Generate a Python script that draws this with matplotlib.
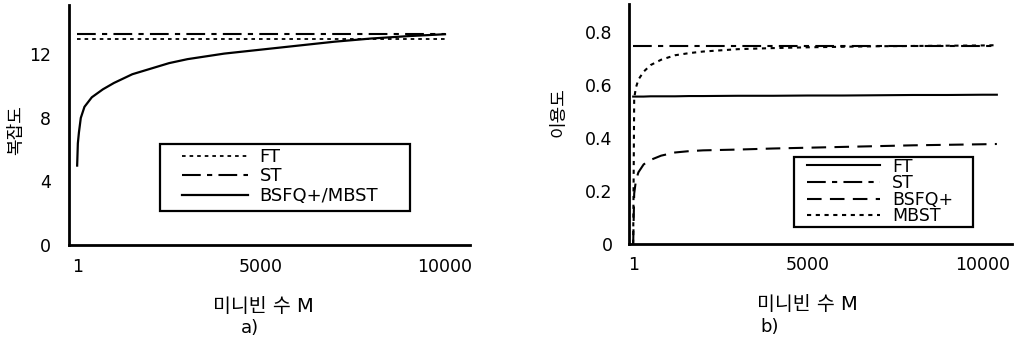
import numpy as np
import matplotlib.pyplot as plt
from matplotlib.patches import Rectangle

plt.rcParams['font.family'] = ['DejaVu Sans', 'Noto Sans CJK KR']

# a) complexity
m_a = [1, 20, 50, 100, 200, 400, 700, 1000, 1500, 2000, 2500, 3000, 4000, 5000, 6000, 7000, 8000, 9000, 10000]
ft_a = 12.95
st_a = 13.27
bsfq_a = [5.0, 6.4, 7.1, 8.0, 8.7, 9.3, 9.8, 10.2, 10.75, 11.1, 11.45, 11.7, 12.05, 12.3, 12.55, 12.8, 13.0, 13.15, 13.27]

# b) utilization
m_b = [1, 30, 80, 150, 300, 500, 800, 1200, 1600, 2000, 3000, 4000, 5000, 6000, 7000, 8000, 9000, 10000, 10400]
ft_b = [0.556, 0.556, 0.556, 0.556, 0.556, 0.557, 0.557, 0.557, 0.558, 0.558, 0.559, 0.559, 0.560, 0.560, 0.561, 0.562, 0.562, 0.563, 0.563]
st_b = 0.748
bsfq_b = [0.0, 0.19, 0.24, 0.27, 0.30, 0.317, 0.333, 0.345, 0.350, 0.353, 0.356, 0.360, 0.363, 0.366, 0.369, 0.372, 0.374, 0.376, 0.377]
mbst_b = [0.0, 0.55, 0.59, 0.62, 0.65, 0.675, 0.695, 0.712, 0.72, 0.726, 0.735, 0.739, 0.742, 0.744, 0.746, 0.747, 0.748, 0.749, 0.75]

xticks = [1, 5000, 10000]

fig = plt.figure(figsize=(10.18, 3.43), dpi=100)

dot = (0, (2, 2.2))
dashdot = (0, (9, 3, 2.5, 3))
dash = (0, (7, 4))

# ---- a)
ax = fig.add_axes([0.0678, 0.2857, 0.3939, 0.6993])
ax.plot([m_a[0], m_a[-1]], [ft_a, ft_a], color='k', lw=1.3, linestyle=dot, label='FT')
ax.plot([m_a[0], m_a[-1]], [st_a, st_a], color='k', lw=1.5, linestyle=dashdot, label='ST')
ax.plot(m_a, bsfq_a, color='k', lw=1.6, label='BSFQ+/MBST')
ax.set_xlim(-220, 10680)
ax.set_ylim(0, 15.1)
ax.set_xticks(xticks)
ax.set_yticks([0, 4, 8, 12])
ax.set_xlabel('미니빈 수 M', fontsize=14)
ax.set_ylabel('복잡도', fontsize=13)
ax.xaxis.set_label_coords(0.484, -0.215)
ax.yaxis.set_label_coords(-0.11, 0.48)
ax.add_patch(Rectangle((0.227, 0.142), 0.623, 0.279, transform=ax.transAxes,
                       fill=False, lw=1.6, ec='k', zorder=5))
ax.legend(loc='upper left', bbox_to_anchor=(0.282, 0.405), frameon=False, fontsize=13,
          borderpad=0, borderaxespad=0, handlelength=3.65, handletextpad=0.65,
          labelspacing=0.09)

# ---- b)
bx = fig.add_axes([0.618, 0.289, 0.376, 0.699])
bx.plot(m_b, ft_b, color='k', lw=1.5, label='FT')
bx.plot([m_b[0], m_b[-1]], [st_b, st_b], color='k', lw=1.5, linestyle=dashdot, label='ST')
bx.plot(m_b, bsfq_b, color='k', lw=1.5, linestyle=dash, label='BSFQ+')
bx.plot(m_b, mbst_b, color='k', lw=1.5, linestyle=dot, label='MBST')
bx.set_xlim(-115, 10830)
bx.set_ylim(0, 0.905)
bx.set_xticks(xticks)
bx.set_yticks([0, 0.2, 0.4, 0.6, 0.8])
bx.set_yticklabels(['0', '0.2', '0.4', '0.6', '0.8'])
bx.set_xlabel('미니빈 수 M', fontsize=14)
bx.set_ylabel('이용도', fontsize=13)
bx.xaxis.set_label_coords(0.465, -0.215)
bx.yaxis.set_label_coords(-0.16, 0.55)
bx.add_patch(Rectangle((0.431, 0.071), 0.467, 0.292, transform=bx.transAxes,
                       fill=False, lw=1.6, ec='k', zorder=5))
bx.legend(loc='upper left', bbox_to_anchor=(0.465, 0.36), frameon=False, fontsize=12.5,
          borderpad=0, borderaxespad=0, handlelength=4.2, handletextpad=0.7,
          labelspacing=-0.08)

for a in (ax, bx):
    a.spines['top'].set_visible(False)
    a.spines['right'].set_visible(False)
    a.spines['left'].set_linewidth(2)
    a.spines['bottom'].set_linewidth(2)
    a.tick_params(length=0, labelsize=12.5)
    a.tick_params(axis='x', pad=9)
ax.tick_params(axis='y', pad=13)
bx.tick_params(axis='y', pad=12)

fig.text(0.2456, 0.044, 'a)', fontsize=13, ha='center', va='center')
fig.text(0.756, 0.047, 'b)', fontsize=13, ha='center', va='center')

fig.savefig('out.png', dpi=100)
